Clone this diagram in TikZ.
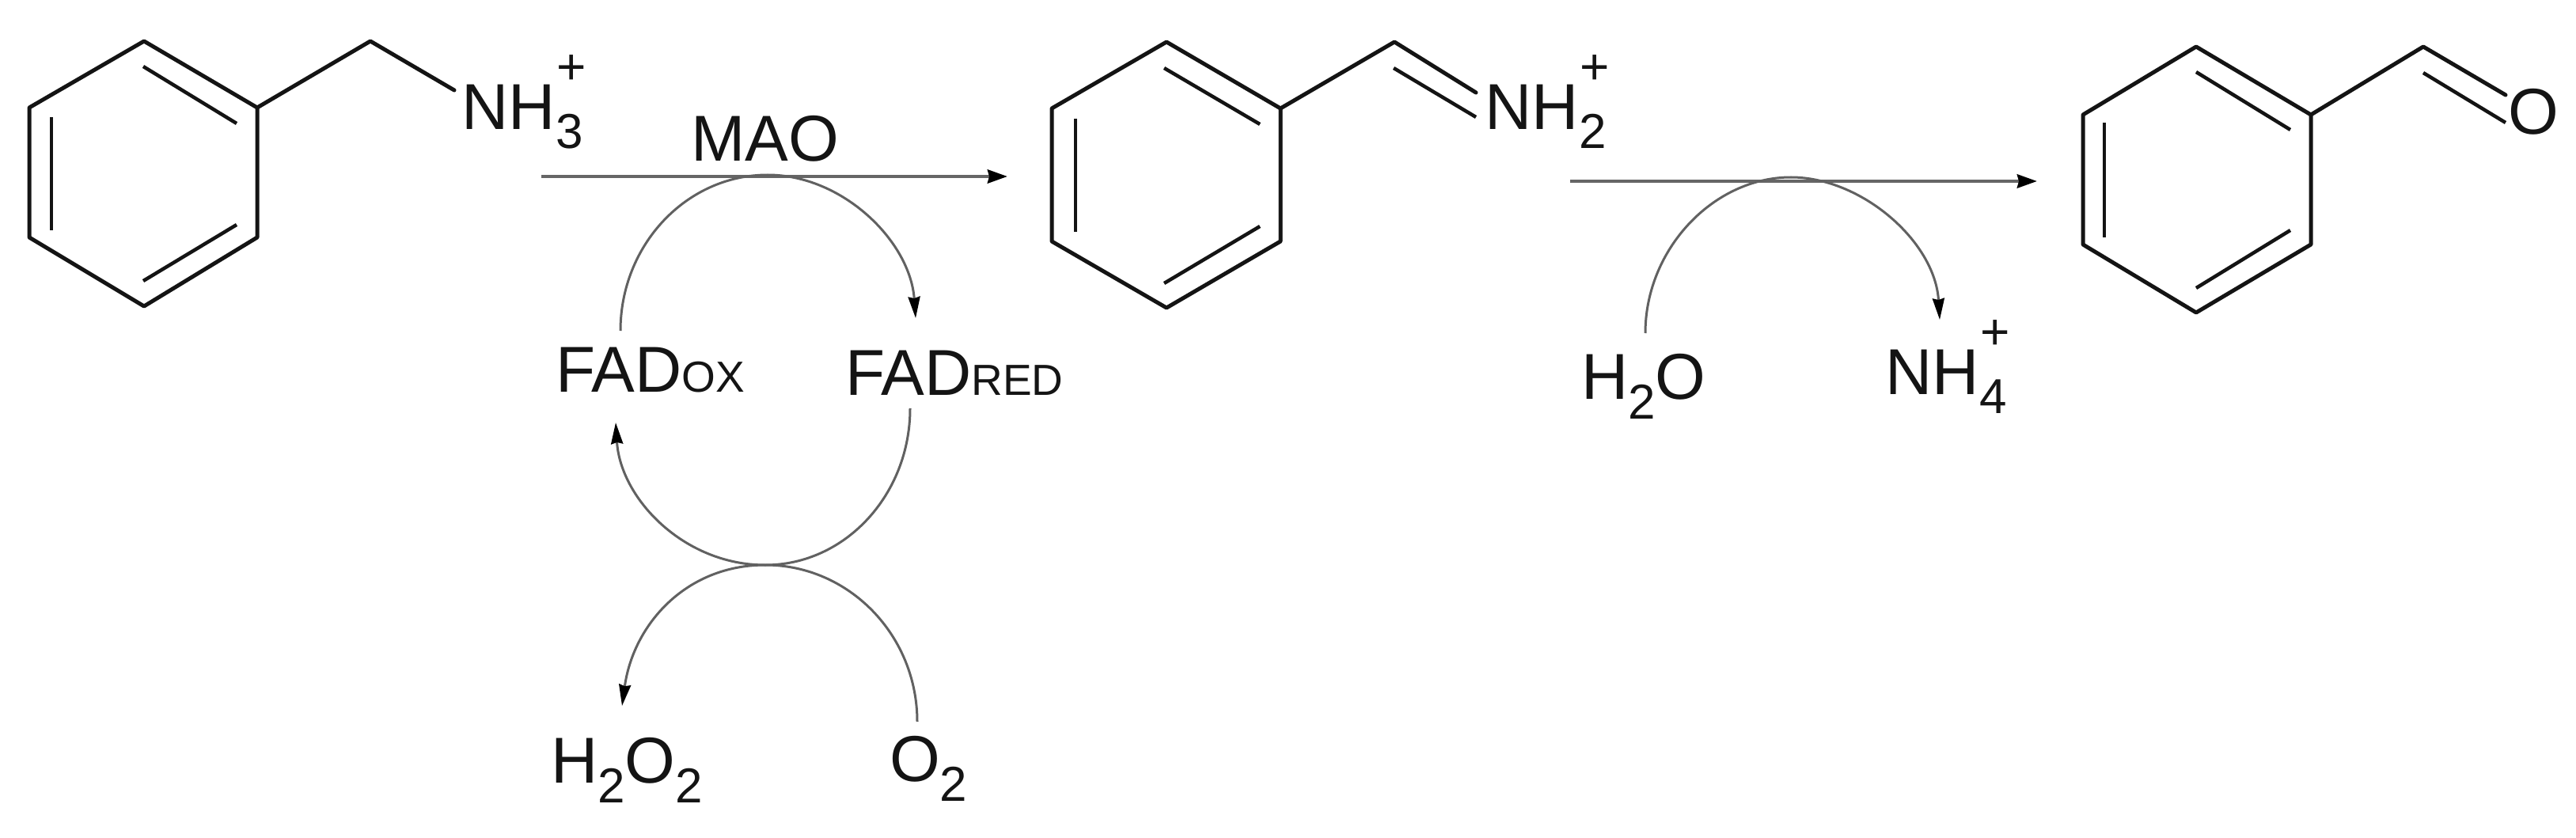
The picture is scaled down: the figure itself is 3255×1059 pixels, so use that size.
\documentclass[tikz,border=0pt]{standalone}
\usepackage{fontspec}
\setmainfont{Liberation Sans}
\usetikzlibrary{arrows.meta}
\newcommand{\smallf}{\fontsize{62}{62}\selectfont}
\newcommand{\capsf}{\fontsize{55}{55}\selectfont}
\newcommand{\lowtwo}[1]{\raisebox{-25pt}{\smallf #1}}
\newcommand{\subsup}[1]{\rlap{\raisebox{-24pt}{\smallf\kern 1pt #1}}\raisebox{57pt}{\fontsize{64}{64}\selectfont\kern 2pt +}}
\tikzset{
  lab/.style={anchor=base west,inner sep=0pt,outer sep=0pt,font=\fontsize{82}{82}\selectfont,text=black!92},
  bond/.style={line width=5pt,draw=black!92,line join=round,line cap=round},
  inner bond/.style={line width=4.5pt,draw=black!92,line cap=butt},
  react/.style={line width=4.5pt,draw=black!60,-{Stealth[length=25pt,width=17pt,inset=2pt,color=black]}},
  curve/.style={line width=3pt,draw=black!62},
  curvearrow/.style={curve,-{Stealth[length=27pt,width=15pt,inset=2pt,color=black]}}
}
\begin{document}
\begin{tikzpicture}[x=1pt,y=-1pt]
\useasboundingbox (0,0) rectangle (3255,1059);
% ring 1
\coordinate (a1) at (182,52);
\coordinate (a2) at (325,136);
\coordinate (a3) at (325,300);
\coordinate (a4) at (182,387);
\coordinate (a5) at (37,300);
\coordinate (a6) at (37,136);
\coordinate (a7) at (468,52);
\coordinate (a8) at (574,114);
\coordinate (ai1) at (181,84);
\coordinate (ai2) at (299,156);
\coordinate (ai3) at (65,148);
\coordinate (ai4) at (65,291);
\coordinate (ai5) at (299,284);
\coordinate (ai6) at (181,355);
\draw[bond] (a1) -- (a2) -- (a3) -- (a4) -- (a5) -- (a6) -- cycle;
\draw[bond] (a2) -- (a7) -- (a8);
\draw[inner bond] (ai1) -- (ai2);
\draw[inner bond] (ai3) -- (ai4);
\draw[inner bond] (ai5) -- (ai6);
% ring 2
\coordinate (b1) at (1474,53);
\coordinate (b2) at (1618,137);
\coordinate (b3) at (1618,305);
\coordinate (b4) at (1474,389);
\coordinate (b5) at (1329,305);
\coordinate (b6) at (1329,137);
\coordinate (b7) at (1762,53);
\coordinate (b8) at (1865,117);
\coordinate (b9) at (1761,86);
\coordinate (b10) at (1865,148);
\coordinate (bi1) at (1471,86);
\coordinate (bi2) at (1592,157);
\coordinate (bi3) at (1359,150);
\coordinate (bi4) at (1359,293);
\coordinate (bi5) at (1592,286);
\coordinate (bi6) at (1471,358);
\draw[bond] (b1) -- (b2) -- (b3) -- (b4) -- (b5) -- (b6) -- cycle;
\draw[bond] (b2) -- (b7) -- (b8);
\draw[inner bond] (b9) -- (b10);
\draw[inner bond] (bi1) -- (bi2);
\draw[inner bond] (bi3) -- (bi4);
\draw[inner bond] (bi5) -- (bi6);
% ring 3
\coordinate (c1) at (2775,59);
\coordinate (c2) at (2920,145);
\coordinate (c3) at (2920,309);
\coordinate (c4) at (2775,395);
\coordinate (c5) at (2632,309);
\coordinate (c6) at (2632,145);
\coordinate (c7) at (3062,59);
\coordinate (c8) at (3166,120);
\coordinate (c9) at (3062,92);
\coordinate (c10) at (3166,155);
\coordinate (ci1) at (2775,91);
\coordinate (ci2) at (2894,164);
\coordinate (ci3) at (2659,155);
\coordinate (ci4) at (2659,300);
\coordinate (ci5) at (2894,291);
\coordinate (ci6) at (2775,364);
\draw[bond] (c1) -- (c2) -- (c3) -- (c4) -- (c5) -- (c6) -- cycle;
\draw[bond] (c2) -- (c7) -- (c8);
\draw[inner bond] (c9) -- (c10);
\draw[inner bond] (ci1) -- (ci2);
\draw[inner bond] (ci3) -- (ci4);
\draw[inner bond] (ci5) -- (ci6);
% labels
\node[lab] (nh3) at (583,164) {NH\subsup{3}};
\node[lab] (nh2) at (1876,164) {NH\subsup{2}};
\node[lab] (oxo) at (3169,170) {O};
\node[lab] (mao) at (873,204) {MAO};
\node[lab] (fadox) at (702,495) {FAD{\capsf OX}};
\node[lab] (fadred) at (1068,499) {FAD{\capsf RED}};
\node[lab] (h2o2) at (696,989) {H\lowtwo{2}O\lowtwo{2}};
\node[lab] (o2) at (1124,987) {O\lowtwo{2}};
\node[lab] (h2o) at (1998,504) {H\lowtwo{2}O};
\node[lab] (nh4) at (2382,498) {NH\subsup{4}};
% reaction arrows
\coordinate (r1s) at (684,223);
\coordinate (r1e) at (1273,223);
\coordinate (r2s) at (1984,229);
\coordinate (r2e) at (2574,229);
\draw[react] (r1s) -- (r1e);
\draw[react] (r2s) -- (r2e);
% MAO cycle, upper
\coordinate (u1) at (784,418);
\coordinate (u2) at (970,221);
\coordinate (u3) at (1157,402);
\draw[curve] (u1) .. controls (784,310) and (867,221) .. (u2);
\draw[curvearrow] (u2) .. controls (1065,221) and (1150,305) .. (u3);
% lower bowl
\coordinate (l1) at (1150,516);
\coordinate (l2) at (967,714);
\coordinate (l3) at (778,534);
\coordinate (l4) at (1159,912);
\coordinate (l5) at (786,892);
\draw[curve] (l1) .. controls (1150,625) and (1068,714) .. (l2);
\draw[curvearrow] (l2) .. controls (864,714) and (784,630) .. (l3);
\draw[curve] (l4) .. controls (1159,803) and (1073,714) .. (l2);
\draw[curvearrow] (l2) .. controls (866,714) and (800,790) .. (l5);
% hydrolysis curve
\coordinate (h1) at (2079,421);
\coordinate (h2) at (2263,224);
\coordinate (h3) at (2451,404);
\draw[curve] (h1) .. controls (2079,315) and (2165,224) .. (h2);
\draw[curvearrow] (h2) .. controls (2352,224) and (2445,305) .. (h3);
\end{tikzpicture}
\end{document}
